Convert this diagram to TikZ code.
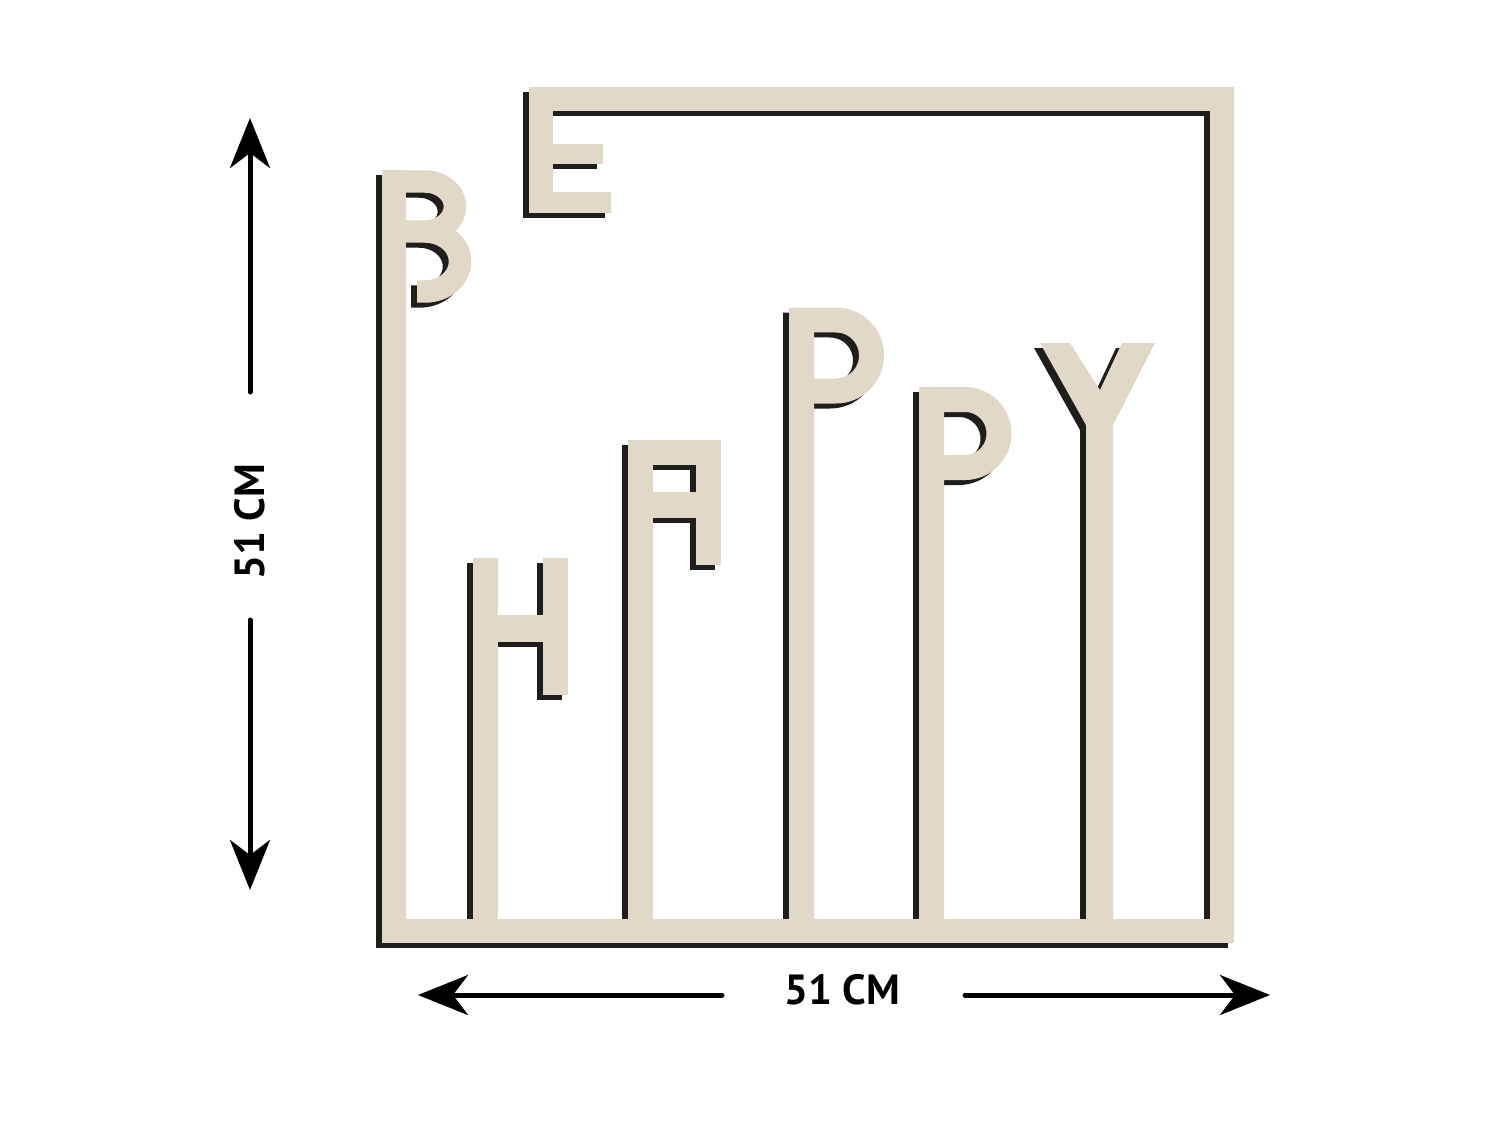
\documentclass[tikz,border=0pt]{standalone}
\usepackage{fontspec}
\setsansfont{PT Sans}
\usepackage{tikz}
\usetikzlibrary{arrows.meta}
\definecolor{bois}{RGB}{224,217,199}
\definecolor{ombre}{RGB}{32,30,28}
\tikzset{
Barre/.style={
 line width=#1,
 line cap=butt,
 line join=miter
 },
Barre/.default={0.5cm},
Cote/.style={
 line width=0.1cm,
 line cap=round,
 -{Stealth[length=1cm,width=0.8cm,inset=0.3cm]}
 },
CoteTexte/.style={
 font=\sffamily\bfseries\fontsize{24}{28}\selectfont,
 inner sep=0pt
 }
}
% le panneau BE HAPPY, dessine deux fois (ombre et bois)
\newcommand{\Panneau}{%
\draw[Barre=0.48cm] (394,170) -- (394,931) -- (1222,931) -- (1222,99) -- (541,99) -- (541,213);
\draw[Barre=0.42cm] (541,154) -- (603,154) (541,202.5) -- (611,202.5);
\draw[Barre=0.45cm] (383,181.5) -- (425,181.5) arc[start angle=-90,end angle=90,x radius=30,y radius=25] -- (394,231.5);
\draw[Barre=0.45cm] (425,231.5) arc[start angle=-90,end angle=90,x radius=35,y radius=30] -- (417,291.5);
\draw[Barre] (485,931) -- (485,558);
\draw[Barre] (555,558) -- (555,695);
\draw[Barre=0.54cm] (485,628.5) -- (555,628.5);
\draw[Barre] (640.5,931) -- (640.5,452.5) -- (708.5,452.5) -- (708.5,565);
\draw[Barre=0.52cm] (640.5,505) -- (708.5,505);
\draw[Barre] (801.5,931) -- (801.5,320) -- (836,320) arc[start angle=-90,end angle=90,radius=35.5] -- (801.5,391);
\draw[Barre] (931.5,931) -- (931.5,399.5) -- (965,399.5) arc[start angle=-90,end angle=90,radius=34] -- (931.5,467.5);
\fill (1040,343) -- (1070,343) -- (1100,390) -- (1122,343) -- (1155,343) -- (1113,425) -- (1113,931) -- (1086,931) -- (1086,425) -- cycle;
}

\begin{document}
\begin{tikzpicture}[x=0.02cm,y=-0.02cm]
\useasboundingbox (0,0) rectangle (1500,1125);
% ombre
\begin{scope}[shift={(-6,5)},color=ombre]
\Panneau
\end{scope}
% bois
\begin{scope}[color=bois]
\Panneau
\end{scope}
% cote verticale
\coordinate (HautV) at (250,118);
\coordinate (FinHautV) at (250,392);
\node[CoteTexte,rotate=90] (TexteV) at (250,522) {51 CM};
\coordinate (FinBasV) at (250,620);
\coordinate (BasV) at (250,890);
\draw[Cote] (FinHautV) -- (HautV);
\draw[Cote] (FinBasV) -- (BasV);
% cote horizontale
\coordinate (GaucheH) at (418,995);
\coordinate (FinGaucheH) at (722,995);
\node[CoteTexte] (TexteH) at (842,990) {51 CM};
\coordinate (FinDroiteH) at (965,995);
\coordinate (DroiteH) at (1270,995);
\draw[Cote] (FinGaucheH) -- (GaucheH);
\draw[Cote] (FinDroiteH) -- (DroiteH);
\end{tikzpicture}
\end{document}
